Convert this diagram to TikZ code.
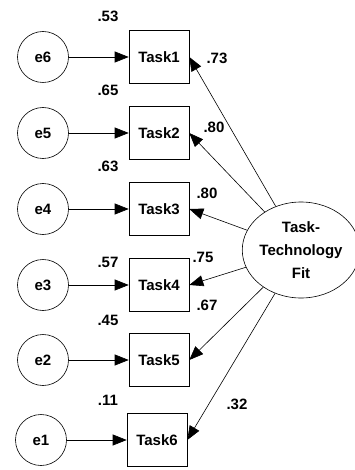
\documentclass[tikz,border=0pt]{standalone}
\usepackage{fontspec}
\setmainfont{Liberation Sans}
\usetikzlibrary{arrows.meta, shapes.geometric}

\tikzset{
    errnode/.style={draw, circle, minimum size=51pt, inner sep=0pt},
    tasknode/.style={draw, rectangle, minimum width=60pt, minimum height=53pt, inner sep=0pt},
    coef/.style={inner sep=0pt}
}

\begin{document}
\begin{tikzpicture}[>={Triangle[length=14pt, width=11pt]}, x=1pt, y=-1pt, line width=0.6pt, font=\fontsize{15}{23}\selectfont\bfseries]

\useasboundingbox (0, 0) rectangle (355, 470);

%\draw[xstep=50,ystep=50,color=gray!80] (0, 0) grid (355, 470);

\node[draw, ellipse, minimum width=107pt, minimum height=96pt, inner sep=0pt, align=center] (fit) at (301, 250) {Task-\\Technology\\Fit};

    	\foreach \n/\e/\y/\x in {1/6/57/159, 2/5/133/159, 3/4/209/159, 4/3/285/159, 5/2/360/159, 6/1/440/157}
    	{
     		\node[errnode] (e\e) at ({\x-116}, \y) {e\e};
     		\node[tasknode] (task\n) at (\x, \y) {Task\n};
     		\draw[->] (e\e) -- (task\n);
     		\draw[->] (fit) -- (task\n.east);
    	}

\node[coef] (r1) at (108, 16) {.53};
\node[coef] (r2) at (108, 90) {.65};
\node[coef] (r3) at (108, 166) {.63};
\node[coef] (r4) at (108, 262) {.57};
\node[coef] (r5) at (108, 320) {.45};
\node[coef] (r6) at (108, 400) {.11};

\node[coef] (l1) at (217, 58) {.73};
\node[coef] (l2) at (214, 127) {.80};
\node[coef] (l3) at (207, 193) {.80};
\node[coef] (l4) at (203, 257) {.75};
\node[coef] (l5) at (207, 305) {.67};
\node[coef] (l6) at (237, 404) {.32};

\end{tikzpicture}
\end{document}
